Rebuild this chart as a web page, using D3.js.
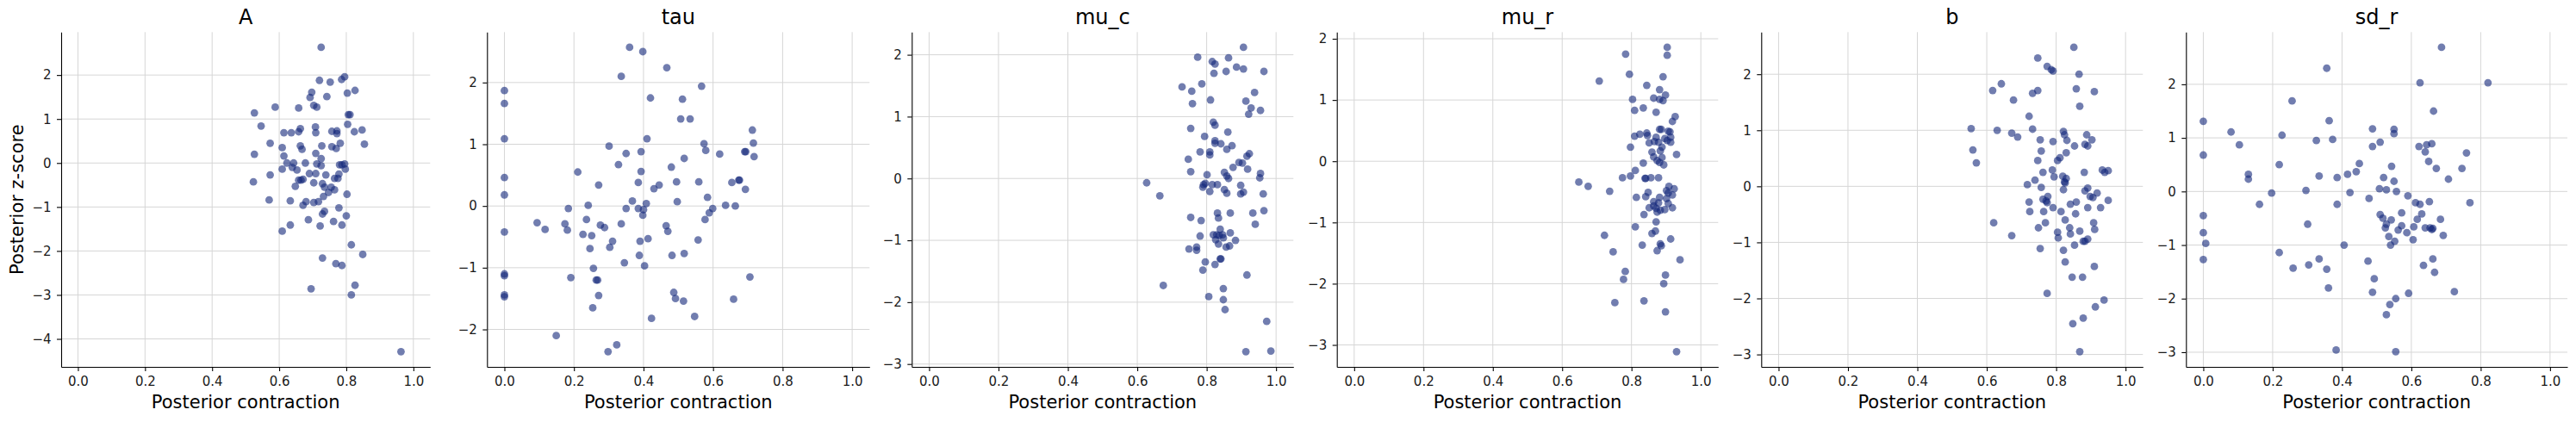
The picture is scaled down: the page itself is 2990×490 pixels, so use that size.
<!DOCTYPE html>
<html>
<head>
<meta charset="utf-8">
<script src="https://cdn.jsdelivr.net/npm/d3@7"></script>
<style>
  body { margin: 0; background: #fff; }
  svg { display: block; font-family: "DejaVu Sans", sans-serif; }
</style>
</head>
<body>
<div id="chart"></div>
<script>
// parameter names (panel titles)
var paramNames = ["A", "tau", "mu_c", "mu_r", "b", "sd_r"];
var xTicks = [0, 0.2, 0.4, 0.6, 0.8, 1.0];

// posterior contraction / posterior z-score per parameter
var contrA = [0.725,0.720,0.752,0.786,0.795,0.697,0.692,0.742,0.803,0.826,0.588,0.658,0.703,0.712,0.526,0.806,0.811,0.546,0.663,0.708,
  0.804,0.614,0.636,0.658,0.709,0.757,0.772,0.772,0.824,0.847,0.573,0.854,0.782,0.609,0.663,0.668,0.727,0.757,0.770,0.526,
  0.614,0.709,0.725,0.623,0.643,0.678,0.712,0.725,0.780,0.787,0.795,0.609,0.639,0.653,0.797,0.573,0.690,0.709,0.739,0.778,
  0.523,0.658,0.665,0.671,0.703,0.729,0.765,0.775,0.648,0.735,0.755,0.765,0.747,0.802,0.570,0.633,0.680,0.703,0.717,0.732,
  0.671,0.778,0.729,0.735,0.800,0.687,0.762,0.633,0.722,0.787,0.609,0.815,0.849,0.729,0.769,0.787,0.695,0.826,0.815,0.963];
var zA = [2.63,1.88,1.84,1.90,1.96,1.61,1.49,1.51,1.59,1.65,1.27,1.25,1.31,1.27,1.14,1.10,1.10,0.84,0.78,0.82,
  0.88,0.69,0.69,0.71,0.69,0.72,0.73,0.67,0.71,0.75,0.45,0.43,0.45,0.35,0.39,0.31,0.39,0.37,0.33,0.20,
  0.16,0.22,0.10,0.00,0.00,0.00,-0.02,-0.06,-0.04,-0.04,-0.02,-0.14,-0.10,-0.16,-0.14,-0.27,-0.24,-0.24,-0.27,-0.25,
  -0.43,-0.39,-0.39,-0.37,-0.45,-0.47,-0.35,-0.35,-0.53,-0.55,-0.55,-0.61,-0.67,-0.71,-0.84,-0.86,-0.88,-0.90,-0.88,-0.76,
  -0.96,-1.02,-1.16,-1.10,-1.20,-1.29,-1.33,-1.41,-1.43,-1.41,-1.55,-1.86,-2.08,-2.16,-2.29,-2.33,-2.86,-2.78,-3.00,-4.29];

var contrTau = [0.360,0.398,0.467,0.336,0.567,0,0,0.420,0.512,0.507,0.534,0.713,0,0.410,0.574,0.716,0.301,0.350,0.393,0.579,
  0.619,0.691,0.694,0.718,0.517,0.328,0.480,0.211,0.393,0,0.385,0.495,0.559,0.654,0.674,0.676,0.271,0.445,0.430,0.693,
  0,0.368,0.584,0.497,0.408,0.241,0.636,0.664,0.184,0.350,0.385,0.400,0.599,0.589,0.398,0.236,0.577,0.094,0.174,0.336,
  0.276,0.117,0.181,0.288,0.465,0.470,0,0.226,0.251,0.413,0.557,0.311,0.390,0.303,0.246,0.517,0.388,0.482,0.345,0.403,
  0.256,0,0,0.191,0.706,0.264,0.268,0,0,0.271,0.487,0.492,0.515,0.659,0.254,0.423,0.547,0.149,0.323,0.298];
var zTau = [2.57,2.50,2.24,2.10,1.94,1.87,1.66,1.75,1.73,1.41,1.41,1.23,1.09,1.09,1.01,1.02,0.97,0.85,0.88,0.90,
  0.84,0.88,0.88,0.80,0.77,0.67,0.63,0.55,0.56,0.46,0.38,0.39,0.39,0.38,0.42,0.42,0.34,0.34,0.28,0.27,
  0.18,0.08,0.14,0.07,0.04,0.01,0.01,0.00,-0.04,-0.04,-0.04,-0.06,-0.04,-0.11,-0.15,-0.22,-0.22,-0.27,-0.29,-0.29,
  -0.31,-0.38,-0.39,-0.35,-0.32,-0.41,-0.42,-0.46,-0.48,-0.53,-0.55,-0.57,-0.57,-0.67,-0.69,-0.77,-0.80,-0.80,-0.92,-0.97,
  -1.01,-1.10,-1.13,-1.16,-1.15,-1.20,-1.20,-1.44,-1.47,-1.45,-1.40,-1.50,-1.54,-1.51,-1.65,-1.82,-1.79,-2.10,-2.25,-2.36];

var contrMuC = [0.906,0.774,0.863,0.816,0.824,0.886,0.906,0.821,0.856,0.965,0.786,0.729,0.757,0.938,0.811,0.913,0.759,0.928,0.955,0.921,
  0.819,0.824,0.754,0.861,0.794,0.824,0.824,0.841,0.873,0.858,0.781,0.809,0.809,0.923,0.916,0.747,0.893,0.903,0.876,0.918,
  0.754,0.851,0.858,0.863,0.955,0.953,0.801,0.627,0.791,0.796,0.816,0.831,0.789,0.898,0.809,0.851,0.858,0.898,0.906,0.963,
  0.665,0.831,0.868,0.933,0.965,0.754,0.834,0.784,0.940,0.839,0.868,0.819,0.829,0.836,0.846,0.781,0.826,0.848,0.883,0.834,
  0.866,0.856,0.749,0.771,0.771,0.839,0.841,0.796,0.824,0.789,0.916,0.675,0.848,0.806,0.848,0.853,0.973,0.913,0.985];
var zMuC = [2.12,1.96,1.95,1.89,1.85,1.80,1.77,1.70,1.73,1.73,1.53,1.48,1.41,1.39,1.27,1.25,1.21,1.14,1.10,1.04,
  0.91,0.86,0.81,0.75,0.68,0.61,0.57,0.56,0.53,0.47,0.43,0.43,0.38,0.40,0.36,0.31,0.26,0.25,0.18,0.15,
  0.11,0.10,0.04,0.00,0.08,0.01,0.06,-0.07,-0.10,-0.08,-0.10,-0.10,-0.14,-0.11,-0.21,-0.18,-0.24,-0.25,-0.22,-0.25,
  -0.28,-0.56,-0.56,-0.56,-0.52,-0.63,-0.64,-0.68,-0.74,-0.82,-0.88,-0.91,-0.91,-0.92,-0.91,-0.93,-0.99,-0.96,-1.00,-1.06,
  -1.09,-1.11,-1.14,-1.11,-1.16,-1.30,-1.30,-1.35,-1.39,-1.48,-1.56,-1.73,-1.78,-1.91,-1.96,-2.12,-2.31,-2.80,-2.79];

var contrMuR = [0.903,0.903,0.783,0.794,0.707,0.891,0.844,0.881,0.898,0.803,0.864,0.881,0.891,0.809,0.834,0.871,0.926,0.918,0.881,0.886,
  0.906,0.911,0.809,0.824,0.844,0.846,0.871,0.913,0.866,0.878,0.896,0.903,0.913,0.851,0.797,0.888,0.859,0.883,0.930,0.864,
  0.888,0.874,0.881,0.893,0.834,0.811,0.774,0.797,0.839,0.841,0.856,0.878,0.648,0.675,0.737,0.908,0.923,0.901,0.906,0.918,
  0.848,0.841,0.814,0.881,0.901,0.864,0.878,0.906,0.864,0.851,0.871,0.883,0.874,0.896,0.918,0.836,0.871,0.811,0.869,0.859,
  0.722,0.913,0.831,0.883,0.886,0.874,0.747,0.940,0.782,0.777,0.898,0.893,0.752,0.836,0.898,0.930];
var zMuR = [1.86,1.73,1.75,1.42,1.31,1.38,1.24,1.17,1.08,1.01,1.03,1.01,0.99,0.83,0.87,0.80,0.73,0.65,0.52,0.52,
  0.49,0.48,0.41,0.44,0.46,0.42,0.39,0.39,0.32,0.31,0.37,0.34,0.31,0.30,0.23,0.23,0.15,0.17,0.11,0.07,
  0.06,0.01,-0.02,-0.06,-0.03,-0.15,-0.27,-0.24,-0.28,-0.28,-0.27,-0.27,-0.34,-0.41,-0.49,-0.41,-0.45,-0.48,-0.52,-0.55,
  -0.51,-0.58,-0.59,-0.59,-0.61,-0.66,-0.68,-0.69,-0.73,-0.76,-0.77,-0.80,-0.83,-0.79,-0.76,-0.87,-0.99,-1.07,-1.14,-1.18,
  -1.21,-1.27,-1.37,-1.35,-1.38,-1.46,-1.48,-1.61,-1.80,-1.93,-1.86,-2.00,-2.31,-2.28,-2.46,-3.11];

var contrB = [0.851,0.747,0.774,0.786,0.791,0.866,0.642,0.617,0.732,0.747,0.858,0.910,0.677,0.868,0.722,0.555,0.630,0.732,0.821,0.672,
  0.824,0.689,0.888,0.754,0.791,0.831,0.903,0.853,0.883,0.891,0.560,0.757,0.829,0.811,0.804,0.747,0.570,0.933,0.940,0.950,
  0.762,0.789,0.881,0.794,0.819,0.829,0.824,0.826,0.739,0.717,0.757,0.821,0.891,0.883,0.918,0.898,0.906,0.776,0.762,0.771,
  0.774,0.950,0.722,0.858,0.841,0.791,0.891,0.928,0.724,0.764,0.814,0.856,0.826,0.620,0.769,0.908,0.749,0.839,0.911,0.804,
  0.868,0.841,0.672,0.806,0.891,0.878,0.883,0.853,0.754,0.821,0.826,0.910,0.846,0.876,0.774,0.938,0.913,0.878,0.848,0.868];
var zB = [2.48,2.29,2.14,2.08,2.06,2.00,1.83,1.71,1.66,1.71,1.74,1.69,1.54,1.43,1.25,1.03,1.00,1.02,0.98,0.95,
  0.92,0.88,0.92,0.83,0.80,0.82,0.83,0.72,0.75,0.72,0.65,0.63,0.60,0.51,0.46,0.46,0.42,0.29,0.25,0.28,
  0.25,0.29,0.25,0.17,0.18,0.14,0.08,0.06,0.11,0.03,-0.02,-0.06,-0.03,-0.08,-0.12,-0.18,-0.20,-0.18,-0.23,-0.26,
  -0.29,-0.25,-0.28,-0.28,-0.32,-0.38,-0.38,-0.38,-0.45,-0.45,-0.45,-0.49,-0.60,-0.65,-0.65,-0.65,-0.74,-0.74,-0.77,-0.82,
  -0.80,-0.85,-0.88,-0.92,-0.94,-0.98,-0.98,-1.05,-1.11,-1.14,-1.35,-1.43,-1.62,-1.62,-1.91,-2.03,-2.15,-2.35,-2.45,-2.95];

var contrSdR = [0,0.080,0.104,0,0,0,0.007,0,0.687,0.356,0.625,0.821,0.256,0.664,0.363,0.488,0.550,0.550,0.227,0.326,
  0.373,0.510,0.488,0.622,0.644,0.659,0.640,0.759,0.650,0.219,0.450,0.543,0.672,0.746,0.130,0.130,0.334,0.386,0.416,0.441,
  0.520,0.550,0.707,0.197,0.296,0.423,0.508,0.528,0.557,0.590,0.478,0.162,0.386,0.612,0.625,0.652,0.769,0.572,0.630,0.510,
  0.518,0.542,0.617,0.684,0.301,0.528,0.525,0.572,0.562,0.607,0.640,0.654,0.659,0.662,0.587,0.692,0.535,0.605,0.552,0.540,
  0.406,0.219,0.334,0.475,0.662,0.259,0.304,0.356,0.635,0.667,0.493,0.361,0.488,0.592,0.724,0.555,0.538,0.528,0.383,0.555];
var zSdR = [1.31,1.11,0.87,0.68,-0.45,-0.77,-0.97,-1.27,2.69,2.30,2.03,2.03,1.69,1.50,1.32,1.17,1.16,1.08,1.05,0.95,
  0.97,0.92,0.84,0.84,0.87,0.89,0.74,0.72,0.56,0.50,0.52,0.47,0.43,0.43,0.32,0.23,0.29,0.26,0.32,0.37,
  0.26,0.19,0.23,-0.03,0.02,-0.02,0.05,0.03,0.00,-0.08,-0.13,-0.24,-0.24,-0.21,-0.24,-0.19,-0.21,-0.40,-0.42,-0.43,
  -0.50,-0.53,-0.52,-0.52,-0.61,-0.61,-0.68,-0.64,-0.72,-0.66,-0.68,-0.68,-0.71,-0.69,-0.77,-0.82,-0.84,-0.90,-0.93,-1.00,
  -1.00,-1.14,-1.26,-1.30,-1.26,-1.43,-1.37,-1.45,-1.38,-1.51,-1.63,-1.80,-1.88,-1.90,-1.87,-2.00,-2.11,-2.30,-2.96,-2.99];

var contrList = [contrA, contrTau, contrMuC, contrMuR, contrB, contrSdR];
var zList = [zA, zTau, zMuC, zMuR, zB, zSdR];

// layout
var W = 2990, H = 490;
var plotTop = 37.3, plotBottom = 426;
var panelLeft = [71, 565.3, 1058.3, 1551.7, 2044.3, 2537.3];
var panelRight = [499.3, 1009.3, 1501.3, 1994.3, 2487.3, 2980];
var dotColor = "#132679";

var svg = d3.select("#chart").append("svg")
  .attr("width", W)
  .attr("height", H);

paramNames.forEach(function(name, i) {
  var xs = contrList[i], zs = zList[i];
  var data = xs.map(function(d, j) { return { c: d, z: zs[j] }; });

  var x = d3.scaleLinear().domain([-0.05, 1.05]).range([panelLeft[i], panelRight[i]]);
  var ext = d3.extent(zs);
  var pad = (ext[1] - ext[0]) * 0.05;
  var y = d3.scaleLinear().domain([ext[0] - pad, ext[1] + pad]).range([plotBottom, plotTop]);
  var yTicks = d3.range(Math.ceil(ext[0] - pad), Math.floor(ext[1] + pad) + 1);

  var g = svg.append("g");

  // grid
  g.selectAll(".gx").data(xTicks).enter().append("line")
    .attr("x1", function(d) { return x(d); })
    .attr("x2", function(d) { return x(d); })
    .attr("y1", plotTop).attr("y2", plotBottom)
    .attr("stroke", "#d6d6d6").attr("stroke-width", 1);
  g.selectAll(".gy").data(yTicks).enter().append("line")
    .attr("x1", panelLeft[i]).attr("x2", panelRight[i])
    .attr("y1", function(d) { return y(d); })
    .attr("y2", function(d) { return y(d); })
    .attr("stroke", "#d6d6d6").attr("stroke-width", 1);

  // points
  g.selectAll("circle").data(data).enter().append("circle")
    .attr("cx", function(d) { return x(d.c); })
    .attr("cy", function(d) { return y(d.z); })
    .attr("r", 4.4)
    .attr("fill", dotColor)
    .attr("fill-opacity", 0.6);

  // axes
  var xAxis = g.append("g")
    .attr("transform", "translate(0," + plotBottom + ")")
    .call(d3.axisBottom(x).tickValues(xTicks).tickFormat(d3.format(".1f"))
      .tickSize(5).tickSizeOuter(0).tickPadding(6));
  var yAxis = g.append("g")
    .attr("transform", "translate(" + panelLeft[i] + ",0)")
    .call(d3.axisLeft(y).tickValues(yTicks).tickFormat(d3.format("d"))
      .tickSize(5).tickSizeOuter(0).tickPadding(6.5));

  [xAxis, yAxis].forEach(function(ax) {
    ax.select(".domain").attr("stroke", "#000").attr("stroke-width", 1.1);
    ax.selectAll(".tick line").attr("stroke", "#000").attr("stroke-width", 1.1);
    ax.selectAll(".tick text")
      .attr("fill", "#1a1a1a")
      .style("font-size", "15px")
      .style("font-family", "DejaVu Sans");
  });

  // title
  g.append("text")
    .attr("x", (panelLeft[i] + panelRight[i]) / 2)
    .attr("y", 28)
    .attr("text-anchor", "middle")
    .style("font-size", "24px")
    .text(name);

  // x label
  g.append("text")
    .attr("x", (panelLeft[i] + panelRight[i]) / 2)
    .attr("y", 474)
    .attr("text-anchor", "middle")
    .style("font-size", "21px")
    .text("Posterior contraction");
});

// shared y label on first panel
svg.append("text")
  .attr("transform", "translate(27," + (plotTop + plotBottom) / 2 + ") rotate(-90)")
  .attr("text-anchor", "middle")
  .style("font-size", "21px")
  .text("Posterior z-score");
</script>
</body>
</html>
